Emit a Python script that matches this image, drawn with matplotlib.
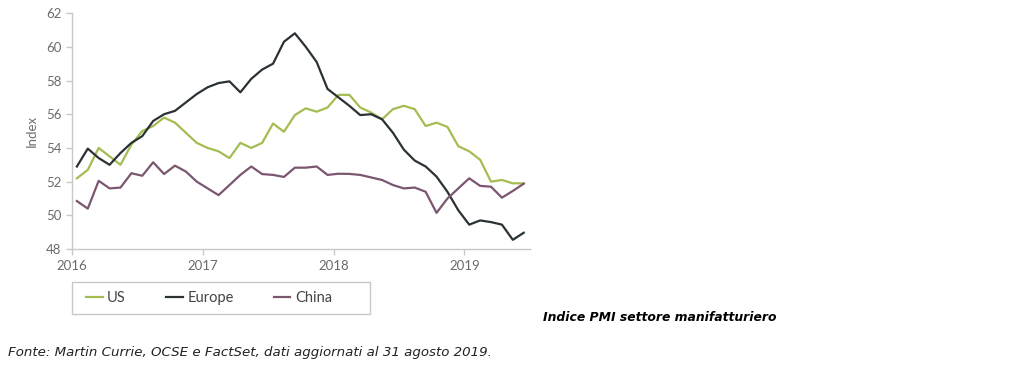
import numpy as np
import matplotlib
matplotlib.use("Agg")
import matplotlib.pyplot as plt
from matplotlib.patches import Rectangle

# Monthly PMI readings, Jan 2016 .. Jun 2019
months = np.arange(42)
us = [52.2, 52.7, 54.0, 53.5, 53.0, 54.2, 55.0, 55.3, 55.8, 55.5,
      54.9, 54.3, 54.0, 53.8, 53.4, 54.3, 54.0, 54.3, 55.45, 54.96,
      55.95, 56.35, 56.15, 56.4, 57.15, 57.15, 56.4, 56.1, 55.7, 56.3,
      56.5, 56.3, 55.3, 55.5, 55.25, 54.1, 53.8, 53.3, 52.0, 52.1,
      51.9, 51.9]
europe = [52.9, 53.96, 53.4, 53.0, 53.7, 54.3, 54.7, 55.6, 56.0, 56.2,
          56.7, 57.2, 57.6, 57.85, 57.95, 57.3, 58.1, 58.65, 59.0, 60.3,
          60.8, 60.0, 59.1, 57.5, 57.0, 56.5, 55.95, 56.0, 55.7, 54.9,
          53.9, 53.25, 52.9, 52.3, 51.4, 50.3, 49.45, 49.7, 49.6, 49.45,
          48.55, 48.97]
china = [50.85, 50.4, 52.05, 51.6, 51.65, 52.5, 52.35, 53.15, 52.45, 52.95,
         52.6, 52.0, 51.6, 51.2, 51.8, 52.4, 52.9, 52.45, 52.4, 52.28,
         52.83, 52.83, 52.9, 52.4, 52.47, 52.46, 52.4, 52.25, 52.1, 51.8,
         51.6, 51.65, 51.4, 50.15, 51.0, 51.6, 52.2, 51.75, 51.7, 51.05,
         51.45, 51.88]
year_ticks = [2016, 2017, 2018, 2019]
y_ticks = [48, 50, 52, 54, 56, 58, 60, 62]

x = 2016 + (months + 0.45) / 12.0

plt.rcParams['font.family'] = ['Lato', 'DejaVu Sans']
grey = '#6b6b6b'
W, H = 1024.0, 374.0

fig = plt.figure(figsize=(10.24, 3.74), dpi=100)
ax = fig.add_axes([0.0703, 0.334, 0.447, 0.631])

ax.plot(x, us, color='#a3bd52', lw=1.6, label='US')
ax.plot(x, europe, color='#2a3236', lw=1.6, label='Europe')
ax.plot(x, china, color='#7a5670', lw=1.6, label='China')

ax.set_xlim(2016, 2019.5)
ax.set_ylim(48, 62)
ax.set_xticks(year_ticks)
ax.set_xticklabels([str(y) for y in year_ticks])
ax.set_yticks(y_ticks)
ax.set_ylabel('Index', color=grey, fontsize=9.5, labelpad=6)

for s in ['top', 'right']:
    ax.spines[s].set_visible(False)
for s in ['left', 'bottom']:
    ax.spines[s].set_color('#c8c8c8')
    ax.spines[s].set_linewidth(1.0)
ax.tick_params(colors='#c8c8c8', labelcolor=grey, labelsize=9.5, length=4, width=1)

# legend box drawn separately so its size matches the original
fig.patches.append(Rectangle((72 / W, 1 - 314 / H), 298 / W, 32 / H,
                             transform=fig.transFigure, fill=False,
                             edgecolor='#c8c8c8', lw=1.0))
leg = fig.legend(loc='center left', bbox_to_anchor=(86 / W, 1 - 298 / H), ncol=3,
                 frameon=False, fontsize=10.5,
                 handlelength=1.15, handletextpad=0.3, columnspacing=2.75,
                 borderpad=0, borderaxespad=0)
for t in leg.get_texts():
    t.set_color('#444444')

fig.text(0.530, 0.150, 'Indice PMI settore manifatturiero', fontsize=8.9,
         fontweight='bold', fontstyle='italic', family=['Liberation Sans Narrow', 'DejaVu Sans'],
         va='center', ha='left', color='black')
fig.text(0.008, 0.058, 'Fonte: Martin Currie, OCSE e FactSet, dati aggiornati al 31 agosto 2019.',
         fontsize=9.65, fontstyle='italic', family=['Liberation Sans Narrow', 'DejaVu Sans'],
         va='center', ha='left', color='#222222')

fig.savefig('out.png', dpi=100)
